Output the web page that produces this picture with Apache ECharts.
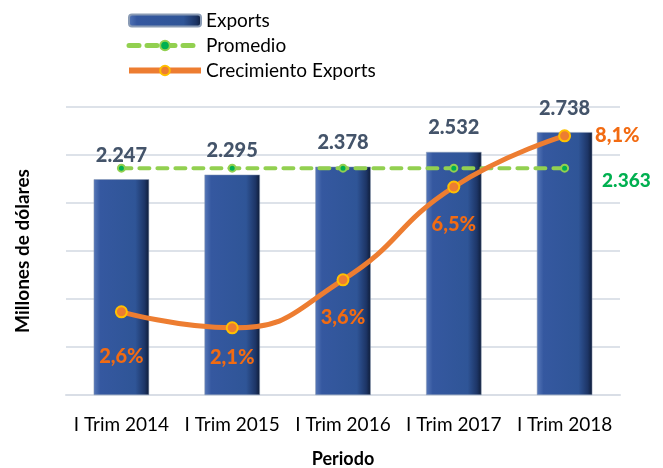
<!DOCTYPE html>
<html>
<head>
<meta charset="utf-8">
<script src="https://cdn.jsdelivr.net/npm/echarts@6/dist/echarts.min.js"></script>
<style>
  html, body { margin: 0; padding: 0; background: #fff; }
  #chart { width: 663px; height: 468px; }
</style>
</head>
<body>
<div id="chart"></div>
<script>
// data
const periods = ['I Trim 2014', 'I Trim 2015', 'I Trim 2016', 'I Trim 2017', 'I Trim 2018'];
const exportsValues = [2.247, 2.295, 2.378, 2.532, 2.738];
const promedioValues = [2.363, 2.363, 2.363, 2.363, 2.363];
const growthValues = [2.6, 2.1, 3.6, 6.5, 8.1];

const font = 'Lato, "Open Sans", sans-serif';

// per-point label placement for the growth line
const growthLabelPos = [
  { position: 'bottom', distance: 28 },
  { position: 'bottom', distance: 13 },
  { position: 'bottom', distance: 21 },
  { position: 'bottom', distance: 21 },
  { position: 'right', distance: 24 },
];

const chart = echarts.init(document.getElementById('chart'));

const barGradient = new echarts.graphic.LinearGradient(0, 0, 1, 0, [
  { offset: 0, color: '#5677b8' },
  { offset: 0.12, color: '#3558a0' },
  { offset: 0.75, color: '#2f5597' },
  { offset: 0.92, color: '#1d3566' },
  { offset: 1, color: '#0e1c38' },
]);

const option = {
  animation: false,
  textStyle: { fontFamily: font },
  legend: {
    orient: 'vertical',
    left: 121,
    top: 6,
    itemWidth: 72,
    itemHeight: 12,
    itemGap: 6,
    textStyle: { fontSize: 19, color: '#000', fontFamily: font },
    data: [
      { name: 'Exports' },
      { name: 'Promedio', lineStyle: { width: 5 } },
      { name: 'Crecimiento Exports', lineStyle: { width: 6 } },
    ],
  },
  grid: {
    left: 66,
    right: 43,
    top: 107,
    bottom: 73,
    outerBoundsMode: 'none',
  },
  xAxis: {
    type: 'category',
    data: periods,
    name: 'Periodo',
    nameLocation: 'middle',
    nameGap: 55,
    nameTextStyle: { fontSize: 18, fontWeight: 'bold', color: '#000', fontFamily: font },
    axisTick: { show: false },
    axisLine: { lineStyle: { color: '#d9dee6', width: 2 } },
    axisLabel: { interval: 0, fontSize: 19, color: '#000', margin: 20, fontFamily: font },
  },
  yAxis: [
    {
      type: 'value',
      min: 0,
      max: 3,
      interval: 0.5,
      name: 'Millones de dólares',
      nameLocation: 'middle',
      nameGap: 34,
      nameTextStyle: { fontSize: 19, fontWeight: 'bold', color: '#000', fontFamily: font },
      axisLabel: { show: false },
      axisLine: { show: false },
      axisTick: { show: false },
      splitLine: { lineStyle: { color: '#dde2e9', width: 2 } },
    },
    {
      type: 'value',
      min: 0,
      max: 9,
      show: false,
      splitLine: { show: false },
    },
  ],
  series: [
    {
      name: 'Exports',
      type: 'bar',
      data: exportsValues,
      barWidth: '50%',
      itemStyle: { color: barGradient, borderColor: '#8a9bb5', borderWidth: 0.5 },
      label: {
        show: true,
        position: 'top',
        distance: 14,
        fontSize: 20,
        fontWeight: 900,
        color: '#44546a',
        fontFamily: font,
        formatter: (p) => p.value.toFixed(3),
      },
      z: 1,
    },
    {
      name: 'Promedio',
      type: 'line',
      data: promedioValues.map((v, i) =>
        i === promedioValues.length - 1
          ? {
              value: v,
              label: {
                show: true,
                position: 'right',
                distance: 33,
                offset: [0, 13],
                fontSize: 19,
                fontWeight: 900,
                color: '#00b050',
                fontFamily: font,
                formatter: (p) => p.value.toFixed(3),
              },
            }
          : v
      ),
      symbol: 'circle',
      symbolSize: 7,
      itemStyle: { color: '#00b050', borderColor: '#92d050', borderWidth: 2 },
      lineStyle: { color: '#92d050', width: 4, type: [10, 8], cap: 'round' },
      z: 3,
    },
    {
      name: 'Crecimiento Exports',
      type: 'line',
      yAxisIndex: 1,
      smooth: true,
      data: growthValues.map((v, i) => ({
        value: v,
        label: Object.assign({}, growthLabelPos[i]),
      })),
      symbol: 'circle',
      symbolSize: 11,
      itemStyle: { color: '#ed7d31', borderColor: '#ffc000', borderWidth: 2 },
      lineStyle: { color: '#ed7d31', width: 5 },
      label: {
        show: true,
        fontSize: 20,
        fontWeight: 900,
        color: '#f26b12',
        fontFamily: font,
        formatter: (p) => p.value.toFixed(1).replace('.', ',') + '%',
      },
      z: 4,
    },
  ],
};

chart.setOption(option);
</script>
</body>
</html>
